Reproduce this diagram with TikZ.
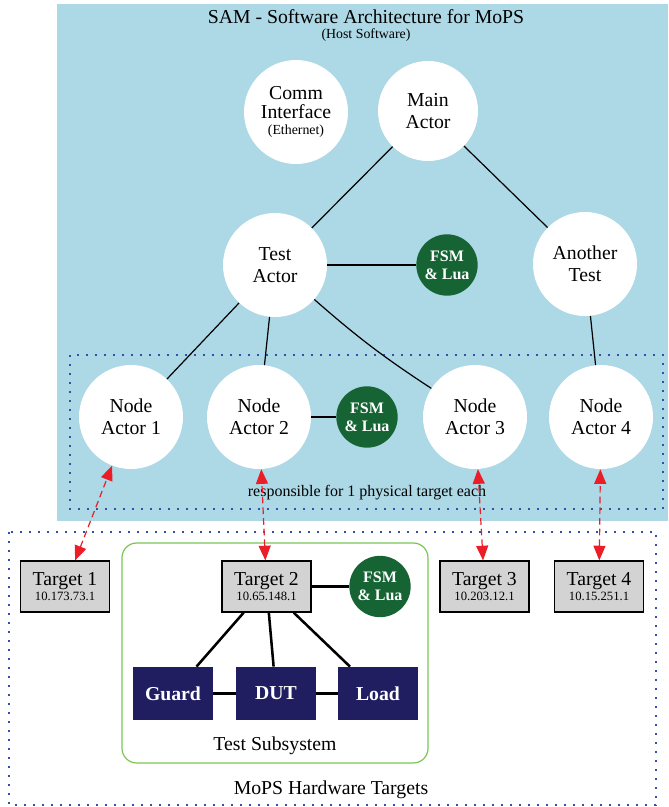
\documentclass[tikz,border=0pt]{standalone}
\usepackage{fontspec}
\setmainfont{Liberation Serif}
\usetikzlibrary{arrows.meta}
\definecolor{bgblue}{HTML}{ADD8E6}
\definecolor{fsmgreen}{RGB}{22,100,52}
\definecolor{navybox}{RGB}{32,30,96}
\definecolor{tgray}{HTML}{D3D3D3}
\definecolor{subgreen}{RGB}{122,196,84}
\definecolor{dotblue}{RGB}{50,80,170}
\definecolor{arrred}{RGB}{235,30,40}
\newcommand\szmain{\fontsize{14.8pt}{16.5pt}\selectfont}
\newcommand\szresp{\fontsize{12pt}{14pt}\selectfont}
\newcommand\szsmall{\fontsize{10.4pt}{12pt}\selectfont}
\newcommand\szip{\fontsize{9.5pt}{11pt}\selectfont}
\newcommand\szfsm{\fontsize{12pt}{13.5pt}\selectfont}
\begin{document}
\begin{tikzpicture}[x=0.75pt,y=-0.75pt,
  actor/.style={circle, fill=white, minimum size=78pt, inner sep=0pt, align=center, font=\szmain},
  fsm/.style={circle, fill=fsmgreen, text=white, minimum size=46pt, inner sep=0pt, align=center, font=\szfsm\bfseries},
  target/.style={rectangle, draw=black, fill=tgray, line width=0.9pt, minimum width=66.75pt, minimum height=38.25pt, inner sep=0pt, align=center, font=\szmain},
  hwbox/.style={rectangle, fill=navybox, text=white, minimum width=60pt, minimum height=40pt, inner sep=0pt, font=\szmain\bfseries},
  plain/.style={inner sep=0pt, font=\szmain},
  smalltext/.style={inner sep=0pt, font=\szsmall},
  dotbox/.style={draw=dotblue, line width=0.8pt, dash pattern=on 1.5pt off 5.25pt},
  edge/.style={draw=black, line width=0.9pt},
  hwedge/.style={draw=black, line width=1.9pt},
  redarrow/.style={draw=arrred, line width=0.9pt, dash pattern=on 5pt off 3pt, {Triangle[length=11pt,width=9pt]}-{Triangle[length=11pt,width=9pt]}}
]
\useasboundingbox (0,0) rectangle (668,807);
\fill[bgblue] (57,4) rectangle (668,521);
\draw[dotbox] (70,355) rectangle (663,509);
\draw[dotbox] (9,532) rectangle (656,805);
\draw[subgreen, line width=0.9pt, rounded corners=11pt] (122,543) rectangle (428,763);

\node[plain] (title) at (366,17) {SAM - Software Architecture for MoPS};
\node[smalltext] (sub) at (366,35) {(Host Software)};
\node[inner sep=0pt, font=\szresp] (resp) at (367,493) {responsible for 1 physical target each};
\node[plain] (tsl) at (275,746) {Test Subsystem};
\node[plain] (hwl) at (331,790) {MoPS Hardware Targets};

\node[actor] (comm) at (296,112) {Comm\\[-2pt]Interface\\[-4.5pt]{\szsmall (Ethernet)}};
\node[actor, minimum size=75pt] (main) at (428,111) {Main\\Actor};
\node[actor] (test) at (275,265) {Test\\Actor};
\node[fsm] (fsm1) at (447,265) {FSM\\\& Lua};
\node[actor] (another) at (585,264) {Another\\Test};
\node[actor] (na1) at (131,417) {Node\\Actor 1};
\node[actor] (na2) at (259,417) {Node\\Actor 2};
\node[fsm] (fsm2) at (367,417) {FSM\\\& Lua};
\node[actor] (na3) at (475,417) {Node\\Actor 3};
\node[actor] (na4) at (601,417) {Node\\Actor 4};

\node[target] (t1) at (65,586.5) {Target 1\\[-5.25pt]{\szip 10.173.73.1}};
\node[target] (t2) at (266.5,586.5) {Target 2\\[-5.25pt]{\szip 10.65.148.1}};
\node[target] (t3) at (484.5,586.5) {Target 3\\[-5.25pt]{\szip 10.203.12.1}};
\node[target] (t4) at (599,586.5) {Target 4\\[-5.25pt]{\szip 10.15.251.1}};
\node[fsm] (fsm3) at (380,586.5) {FSM\\\& Lua};
\node[hwbox] (guard) at (173,693.5) {Guard};
\node[hwbox] (dut) at (276,693.5) {DUT};
\node[hwbox] (load) at (378,693.5) {Load};

\draw[edge] (main) -- (test);
\draw[edge] (main) -- (another);
\draw[edge] (test) -- (fsm1);
\draw[edge] (test) -- (na1);
\draw[edge] (test) -- (na2);
\draw[edge] (test) to[bend right=4] (na3);
\draw[edge] (another) -- (na4);
\draw[edge] (na2) -- (fsm2);

\draw[hwedge] (t2) -- (guard);
\draw[hwedge] (t2) -- (dut);
\draw[hwedge] (t2) -- (load);
\draw[hwedge] (guard) -- (dut);
\draw[hwedge] (dut) -- (load);
\draw[hwedge] (t2) -- (fsm3);

\draw[redarrow] (t1) -- (na1);
\draw[redarrow] (t2) -- (na2);
\draw[redarrow] (t3) -- (na3);
\draw[redarrow] (t4) -- (na4);
\end{tikzpicture}
\end{document}
